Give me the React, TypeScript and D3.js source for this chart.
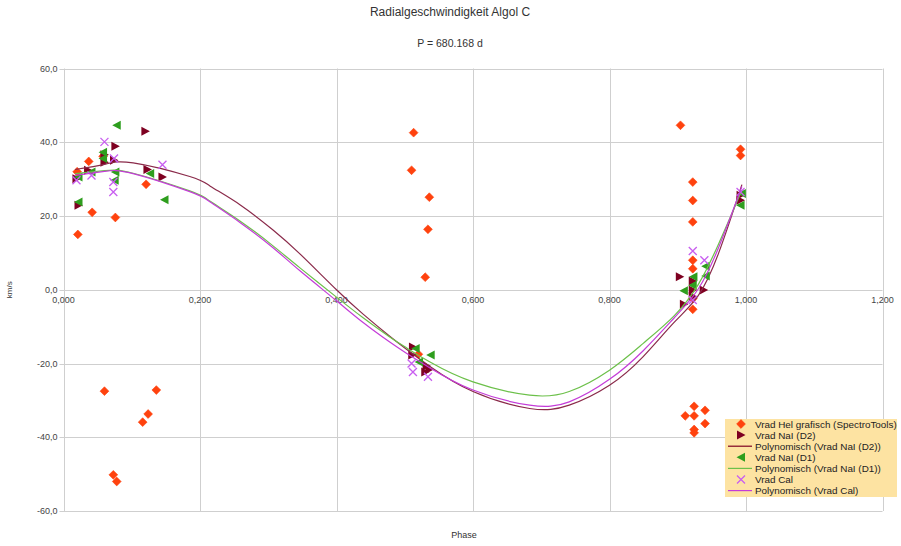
import { useEffect, useRef } from "react"
import * as d3 from "d3"

// phase / km/s pairs
const helPhase = [0.021, 0.042, 0.076, 0.02, 0.037, 0.058, 0.121, 0.06, 0.116, 0.124, 0.136, 0.073, 0.078, 0.513, 0.51, 0.536, 0.534, 0.53, 0.52, 0.992, 0.992, 0.922, 0.922, 0.922, 0.922, 0.922, 0.922, 0.922, 0.904, 0.924, 0.94, 0.911, 0.924, 0.94, 0.924, 0.924]
const helVel = [15.0, 21.0, 19.6, 32.0, 34.8, 36.2, 28.6, -27.5, -35.9, -33.7, -27.2, -50.2, -52.0, 42.6, 32.4, 25.1, 16.4, 3.4, -17.5, 38.1, 36.4, 29.2, 24.2, 18.4, 8.0, 5.7, -2.4, -5.3, 44.6, -31.6, -32.7, -34.2, -34.2, -36.3, -37.9, -38.8]

const d2Phase = [0.019, 0.022, 0.036, 0.06, 0.076, 0.074, 0.12, 0.123, 0.145, 0.06, 0.512, 0.511, 0.532, 0.53, 0.536, 0.903, 0.922, 0.922, 0.938, 0.922, 0.909, 0.992, 0.992]
const d2Vel = [30.1, 22.9, 32.4, 34.6, 38.9, 35.1, 43.0, 32.6, 30.6, 36.6, -15.5, -17.7, -20.7, -22.3, -21.6, 3.5, 2.4, -0.1, -0.1, -1.8, -3.9, 24.3, 25.6]

const d1Phase = [0.078, 0.058, 0.076, 0.075, 0.041, 0.022, 0.022, 0.127, 0.148, 0.058, 0.516, 0.538, 0.521, 0.909, 0.922, 0.941, 0.941, 0.923, 0.994, 0.992]
const d1Vel = [44.6, 37.3, 31.9, 29.7, 31.9, 30.6, 23.8, 31.5, 24.4, 35.6, -15.9, -17.7, -19.6, -0.3, 1.2, 6.4, 3.7, 3.5, 26.1, 22.9]

const calPhase = [0.06, 0.041, 0.073, 0.073, 0.145, 0.019, 0.074, 0.51, 0.512, 0.534, 0.922, 0.939, 0.922, 0.992]
const calVel = [40.1, 31.0, 29.2, 26.5, 33.9, 29.7, 35.6, -20.0, -22.3, -23.6, 10.5, 8.0, -2.8, 26.5]

// trend lines
const fitPhase = [0.017, 0.06, 0.102, 0.185, 0.215, 0.259, 0.307, 0.346, 0.4, 0.439, 0.478, 0.503, 0.537, 0.6, 0.683, 0.741, 0.8, 0.849, 0.895, 0.93, 0.96, 0.994]
const fitD2 = [32.6, 34.0, 34.4, 30.7, 28.1, 23.0, 16.2, 9.8, 0.0, -6.6, -12.6, -16.2, -20.8, -27.6, -32.2, -31.3, -25.9, -18.2, -8.8, -1.6, 10.0, 28.5]
const fitD1 = [31.5, 32.3, 31.6, 26.8, 24.0, 18.6, 11.9, 6.0, -2.0, -7.6, -12.8, -15.8, -19.6, -25.0, -28.6, -27.6, -21.8, -14.6, -7.0, 1.4, 12.5, 27.0]
const fitCal = [31.0, 32.1, 31.5, 26.6, 23.8, 18.2, 11.4, 5.2, -3.0, -8.9, -14.2, -17.3, -21.2, -27.2, -31.3, -30.4, -24.3, -16.6, -7.6, 0.2, 11.5, 28.0]

const xTicks = [0, 0.2, 0.4, 0.6, 0.8, 1.0, 1.2]
const yTicks = [-60, -40, -20, 0, 20, 40, 60]

const legendItems = [
  { label: "Vrad Hel grafisch (SpectroTools)", kind: "diamond", color: "#ff420e" },
  { label: "Vrad NaI (D2)", kind: "right", color: "#7e0021" },
  { label: "Polynomisch (Vrad NaI (D2))", kind: "line", color: "#7e0021" },
  { label: "Vrad NaI (D1)", kind: "left", color: "#2e9e1e" },
  { label: "Polynomisch (Vrad NaI (D1))", kind: "line", color: "#6cc04a" },
  { label: "Vrad Cal", kind: "cross", color: "#c85ef0" },
  { label: "Polynomisch (Vrad Cal)", kind: "line", color: "#c43cd8" },
]

const FONT = "'Liberation Sans', Arial, sans-serif"

const App = () => {
  const svgRef = useRef<SVGSVGElement | null>(null)

  useEffect(() => {
    if (!svgRef.current) return
    const svg = d3.select(svgRef.current)
    svg.selectAll("*").remove()

    const left = 63.5
    const right = 882.5
    const top = 68.5
    const bottom = 511

    const x = d3.scaleLinear().domain([0, 1.2]).range([left, right])
    const y = d3.scaleLinear().domain([-60, 60]).range([bottom, top])

    svg.append("rect").attr("width", 901).attr("height", 546).attr("fill", "#fff")

    // grid
    const grid = svg.append("g").attr("stroke", "#cfcfcf").attr("stroke-width", 1)
    grid
      .selectAll("line.h")
      .data(yTicks)
      .join("line")
      .attr("x1", left - 4)
      .attr("x2", right)
      .attr("y1", (d) => Math.round(y(d)) + 0.5)
      .attr("y2", (d) => Math.round(y(d)) + 0.5)
    grid
      .selectAll("line.v")
      .data(xTicks)
      .join("line")
      .attr("x1", (d) => Math.round(x(d)) + 0.5)
      .attr("x2", (d) => Math.round(x(d)) + 0.5)
      .attr("y1", top)
      .attr("y2", bottom)

    // tick labels
    svg
      .append("g")
      .selectAll("text")
      .data(yTicks)
      .join("text")
      .attr("x", left - 6)
      .attr("y", (d) => y(d) + 3)
      .attr("text-anchor", "end")
      .attr("font-family", FONT)
      .attr("font-size", 9)
      .attr("fill", "#444")
      .text((d) => d3.format(".1f")(d).replace(".", ",").replace("−", "-"))

    svg
      .append("g")
      .selectAll("text")
      .data(xTicks)
      .join("text")
      .attr("x", (d) => x(d))
      .attr("y", y(0) + 13)
      .attr("text-anchor", "middle")
      .attr("font-family", FONT)
      .attr("font-size", 9)
      .attr("fill", "#444")
      .text((d) => d3.format(".3f")(d).replace(".", ","))

    // titles
    svg
      .append("text")
      .attr("x", 450)
      .attr("y", 16)
      .attr("text-anchor", "middle")
      .attr("font-family", FONT)
      .attr("font-size", 12)
      .attr("fill", "#333")
      .text("Radialgeschwindigkeit Algol C")
    svg
      .append("text")
      .attr("x", 450)
      .attr("y", 47)
      .attr("text-anchor", "middle")
      .attr("font-family", FONT)
      .attr("font-size", 10.5)
      .attr("fill", "#333")
      .text("P = 680.168 d")
    svg
      .append("text")
      .attr("x", 464)
      .attr("y", 538)
      .attr("text-anchor", "middle")
      .attr("font-family", FONT)
      .attr("font-size", 9)
      .attr("fill", "#333")
      .text("Phase")
    svg
      .append("text")
      .attr("transform", `translate(12,${y(0)}) rotate(-90)`)
      .attr("text-anchor", "middle")
      .attr("font-family", FONT)
      .attr("font-size", 8)
      .attr("fill", "#333")
      .text("km/s")

    const marker = (g: d3.Selection<SVGGElement, unknown, null, undefined>, kind: string, color: string, cx: number, cy: number) => {
      if (kind === "diamond") {
        g.append("path")
          .attr("d", `M${cx},${cy - 4.4}L${cx + 4.4},${cy}L${cx},${cy + 4.4}L${cx - 4.4},${cy}Z`)
          .attr("fill", color)
          .attr("stroke", color)
          .attr("stroke-width", 0.6)
          .attr("stroke-linejoin", "round")
      } else if (kind === "right") {
        g.append("path")
          .attr("d", `M${cx - 4},${cy - 4.5}L${cx + 4.5},${cy}L${cx - 4},${cy + 4.5}Z`)
          .attr("fill", color)
      } else if (kind === "left") {
        g.append("path")
          .attr("d", `M${cx + 4},${cy - 4.5}L${cx - 4.5},${cy}L${cx + 4},${cy + 4.5}Z`)
          .attr("fill", color)
      } else if (kind === "cross") {
        g.append("path")
          .attr("d", `M${cx - 4},${cy - 4}L${cx + 4},${cy + 4}M${cx - 4},${cy + 4}L${cx + 4},${cy - 4}`)
          .attr("stroke", color)
          .attr("stroke-width", 1.3)
          .attr("fill", "none")
      }
    }

    const scatter = (phases: number[], vels: number[], kind: string, color: string) => {
      const g = svg.append("g")
      phases.forEach((p, i) => marker(g, kind, color, x(p), y(vels[i])))
    }

    const line = d3
      .line<number>()
      .x((d, i) => x(fitPhase[i]))
      .y((d) => y(d))
      .curve(d3.curveNatural)

    scatter(helPhase, helVel, "diamond", "#ff420e")
    scatter(d2Phase, d2Vel, "right", "#7e0021")
    svg.append("path").attr("d", line(fitD2)).attr("fill", "none").attr("stroke", "#8a2a4a").attr("stroke-width", 1.2)
    scatter(d1Phase, d1Vel, "left", "#2e9e1e")
    svg.append("path").attr("d", line(fitD1)).attr("fill", "none").attr("stroke", "#6cc04a").attr("stroke-width", 1.2)
    scatter(calPhase, calVel, "cross", "#c85ef0")
    svg.append("path").attr("d", line(fitCal)).attr("fill", "none").attr("stroke", "#c43cd8").attr("stroke-width", 1.2)

    // legend
    const lg = svg.append("g")
    lg.append("rect").attr("x", 725).attr("y", 419).attr("width", 172).attr("height", 78).attr("fill", "#fde3a2")
    legendItems.forEach((item, i) => {
      const cy = 424 + i * 11.1
      if (item.kind === "line") {
        lg.append("line")
          .attr("x1", 728)
          .attr("x2", 752)
          .attr("y1", cy)
          .attr("y2", cy)
          .attr("stroke", item.color)
          .attr("stroke-width", 1.2)
      } else {
        marker(lg, item.kind, item.color, 741, cy)
      }
      lg.append("text")
        .attr("x", 755)
        .attr("y", cy + 3.5)
        .attr("font-family", FONT)
        .attr("font-size", 9.9)
        .attr("fill", "#222")
        .text(item.label)
    })
  }, [])

  return (
    <div style={{ position: "absolute", left: 0, top: 0 }}>
      <svg ref={svgRef} width={901} height={546} />
    </div>
  )
}

export default App
